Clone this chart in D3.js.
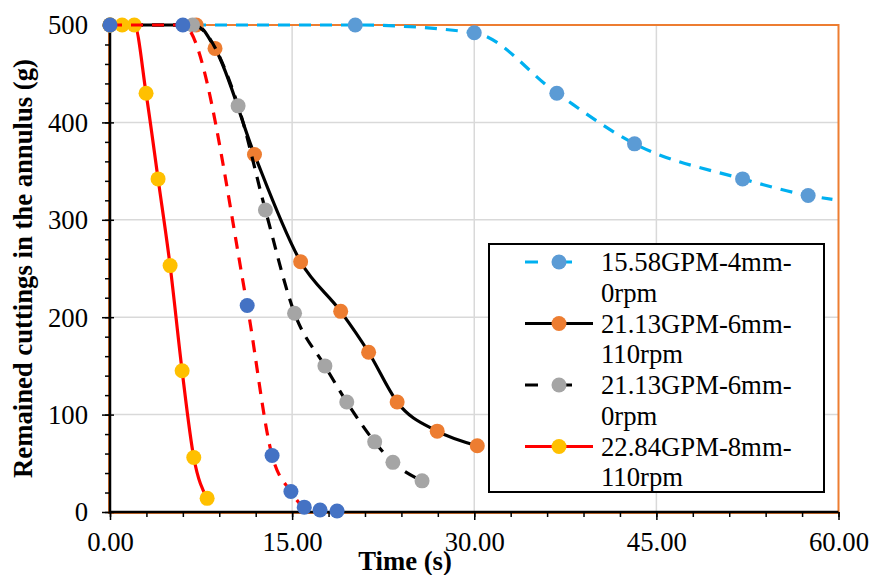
<!DOCTYPE html>
<html><head><meta charset="utf-8">
<script src="https://cdn.jsdelivr.net/npm/d3@7"></script>
<style>body{margin:0;background:#fff}svg{display:block}</style>
</head><body>
<svg id="c" width="870" height="575"></svg>
<script>
// ---- data ----
const xTicks = [0, 15, 30, 45, 60];
const yTicks = [0, 100, 200, 300, 400, 500];
const seriesNames = ["15.58GPM-4mm-0rpm", "21.13GPM-6mm-110rpm", "21.13GPM-6mm-0rpm", "22.84GPM-8mm-110rpm", ""];
const legendLines = [["15.58GPM-4mm-", "0rpm"], ["21.13GPM-6mm-", "110rpm"], ["21.13GPM-6mm-", "0rpm"], ["22.84GPM-8mm-", "110rpm"]];

const s1x = [0, 20.2, 30.0, 36.8, 43.2, 52.1, 57.5, 59.5];
const s1y = [500, 500, 492, 430, 378, 342, 325, 321];
const s1marked = [1, 1, 1, 1, 1, 1, 1, 0];

const s2x = [0, 7.1, 8.65, 11.9, 15.7, 19.0, 21.3, 23.65, 26.95, 30.25];
const s2y = [500, 500, 476, 367, 257, 206, 164, 113, 83, 68];

const s3x = [0, 6.8, 10.55, 12.8, 15.2, 17.7, 19.5, 21.8, 23.3, 25.7];
const s3y = [500, 500, 417, 310, 204, 150, 113, 72, 51, 32];

const s4x = [0, 1.0, 2.0, 2.97, 3.96, 4.95, 5.94, 6.9, 8.0];
const s4y = [500, 500, 500, 430, 342, 253, 145, 56, 14];

const s5x = [0, 6.0, 11.3, 13.35, 14.9, 16.0, 17.3, 18.7];
const s5y = [500, 500, 212, 58, 21, 5, 2, 1];

// ---- styles ----
const styles = [
  {line: "#00B0F0", dash: "12,9", marker: "#5B9BD5"},
  {line: "#000000", dash: null, marker: "#ED7D31"},
  {line: "#000000", dash: "12,9", marker: "#A5A5A5"},
  {line: "#FF0000", dash: null, marker: "#FFC000"},
  {line: "#FF0000", dash: "12,9", marker: "#4472C4"}
];
const series = [
  {xs: s1x, ys: s1y, marked: s1marked},
  {xs: s2x, ys: s2y},
  {xs: s3x, ys: s3y},
  {xs: s4x, ys: s4y},
  {xs: s5x, ys: s5y}
].map((s, i) => ({...s, ...styles[i], name: seriesNames[i],
  pts: s.xs.map((x, j) => ({x, y: s.ys[j], m: s.marked ? s.marked[j] : 1}))}));

const FONT = "Liberation Serif";
const svg = d3.select("#c");
svg.append("rect").attr("width", 870).attr("height", 575).attr("fill", "#fff");

const L = 110, R = 838.5, T = 25, B = 512;
const x = d3.scaleLinear().domain([0, 60]).range([L, R]);
const y = d3.scaleLinear().domain([0, 500]).range([B, T]);
const FS = 26.7;

// grid
const g = svg.append("g");
g.selectAll(".gx").data(xTicks.filter(t => t > 0 && t < 60)).enter().append("line")
  .attr("x1", d => x(d)).attr("x2", d => x(d)).attr("y1", T).attr("y2", B)
  .attr("stroke", "#D9D9D9").attr("stroke-width", 1.5);
g.selectAll(".gy").data(yTicks.filter(t => t > 0 && t < 500)).enter().append("line")
  .attr("x1", L).attr("x2", R).attr("y1", d => y(d)).attr("y2", d => y(d))
  .attr("stroke", "#D9D9D9").attr("stroke-width", 1.5);

// plot area border (orange)
svg.append("rect").attr("x", L - 1).attr("y", T).attr("width", R - L + 1).attr("height", B - T + 1)
  .attr("fill", "none").attr("stroke", "#ED7D31").attr("stroke-width", 2);

// axes
const xAxis = svg.append("g").attr("transform", `translate(0,${B})`)
  .call(d3.axisBottom(x).tickValues(xTicks).tickSize(8).tickFormat(d3.format(".2f")));
const xMinor = svg.append("g").attr("transform", `translate(0,${B})`)
  .call(d3.axisBottom(x).tickValues(d3.range(0, 61, 3)).tickSize(5).tickFormat(""));
const yAxis = svg.append("g").attr("transform", `translate(${L},0)`)
  .call(d3.axisLeft(y).tickValues(yTicks).tickSize(8).tickFormat(d3.format("d")));
const yMinor = svg.append("g").attr("transform", `translate(${L},0)`)
  .call(d3.axisLeft(y).tickValues(d3.range(0, 501, 20)).tickSize(5).tickFormat(""));
[xAxis, xMinor, yAxis, yMinor].forEach(a => {
  a.attr("font-family", FONT);
  a.select(".domain").attr("stroke", "#000").attr("stroke-width", 2.5);
  a.selectAll(".tick line").attr("stroke", "#000").attr("stroke-width", 1.5);
});
xMinor.select(".domain").remove();
yMinor.select(".domain").remove();
xAxis.select(".domain").attr("d", `M${L - 1},0H${R}`);
yAxis.select(".domain").attr("d", `M0,${B + 1}V${T}`);
xAxis.selectAll(".tick text").attr("font-size", FS).attr("fill", "#000")
  .attr("y", 0).attr("dy", 0).attr("transform", "translate(0,39)").attr("font-family", FONT);
yAxis.selectAll(".tick text").attr("font-size", FS).attr("fill", "#000")
  .attr("x", -22).attr("dy", "0.33em").attr("font-family", FONT);
yAxis.selectAll(".tick line").attr("x1", 4);

// titles
svg.append("text").attr("x", 405).attr("y", 570).attr("text-anchor", "middle").attr("font-family", FONT)
  .attr("font-size", FS).attr("font-weight", "bold").text("Time (s)");
svg.append("text").attr("transform", "translate(32,268.5) rotate(-90)").attr("text-anchor", "middle")
  .attr("font-family", FONT)
  .attr("font-size", FS).attr("font-weight", "bold").text("Remained cuttings in the annulus (g)");

// series
const lineGen = d3.line().x(d => x(d.x)).y(d => y(d.y)).curve(d3.curveMonotoneX);
const plot = svg.append("g");
series.forEach(s => {
  plot.append("path").datum(s.pts).attr("d", lineGen).attr("fill", "none")
    .attr("stroke", s.line).attr("stroke-width", 3.2)
    .attr("stroke-dasharray", s.dash).attr("stroke-linecap", "butt");
  plot.selectAll(null).data(s.pts.filter(p => p.m)).enter().append("circle")
    .attr("cx", d => x(d.x)).attr("cy", d => y(d.y)).attr("r", 7.5).attr("fill", s.marker);
});

// legend
const lg = svg.append("g").attr("font-family", FONT);
lg.append("rect").attr("x", 489).attr("y", 244).attr("width", 335).attr("height", 248)
  .attr("fill", "#fff").attr("stroke", "#000").attr("stroke-width", 2);
legendLines.forEach((lines, i) => {
  const s = series[i];
  const cy = 262 + i * 61.5;
  lg.append("line").attr("x1", 525).attr("x2", 593).attr("y1", cy).attr("y2", cy)
    .attr("stroke", s.line).attr("stroke-width", 3.2)
    .attr("stroke-dasharray", s.dash ? "13,21" : null);
  lg.append("circle").attr("cx", 559).attr("cy", cy).attr("r", 7.5).attr("fill", s.marker);
  lines.forEach((t, k) => {
    lg.append("text").attr("x", 601).attr("y", cy + 9 + k * 30.5).attr("font-family", FONT)
      .attr("font-size", FS).text(t);
  });
});
</script>
</body></html>
